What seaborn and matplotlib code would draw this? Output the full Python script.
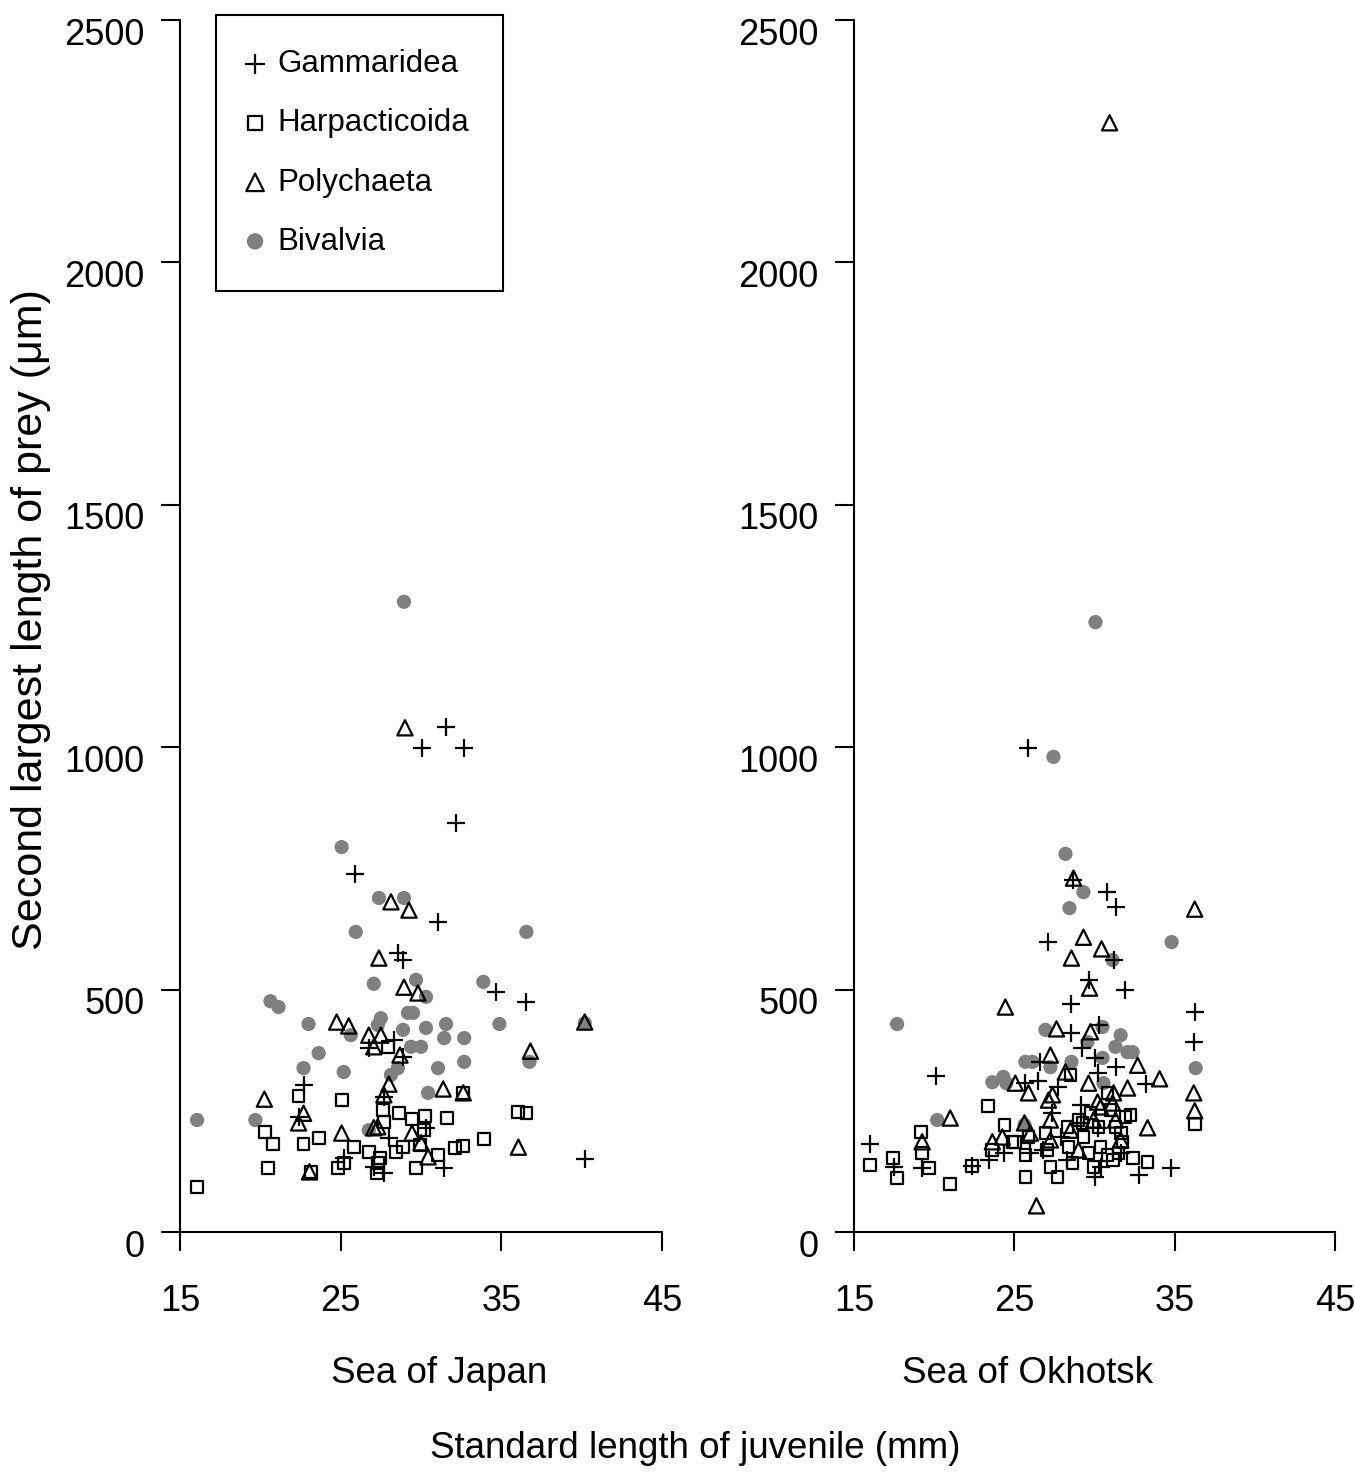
import numpy as np
import pandas as pd
import matplotlib
matplotlib.use("Agg")
import matplotlib.pyplot as plt
import matplotlib.transforms as mtransforms
import seaborn as sns

# ---- data: standard length (mm) vs prey length (um) ----
# Sea of Japan
jp_gam_x = [31.56, 30.06, 32.69, 32.19, 25.88, 31.06, 28.56, 28.88, 34.69, 36.56, 28.31, 26.75,
            28.88, 22.69, 22.38, 27.69, 28.0, 25.19, 27.06, 27.69, 30.31, 31.44, 40.19]
jp_gam_y = [1042, 998, 998, 844, 738, 639, 576, 561, 495, 474, 396, 380,
            361, 303, 237, 278, 194, 153, 134, 122, 215, 132, 151]

jp_har_x = [22.38, 25.06, 27.63, 28.63, 29.44, 30.25, 31.63, 20.31, 20.81, 22.69, 23.63, 25.81,
            26.75, 27.44, 28.44, 28.88, 20.5, 23.13, 24.81, 25.19, 27.25, 29.69, 16.06, 27.69,
            27.94, 30.19, 32.63, 36.06, 36.56, 33.94, 32.63, 32.13, 31.06, 29.94, 27.31]
jp_har_y = [281, 272, 252, 245, 233, 239, 235, 206, 182, 182, 194, 175,
            165, 153, 165, 175, 132, 124, 132, 142, 122, 132, 93, 227,
            382, 210, 287, 248, 245, 192, 177, 173, 159, 179, 142]

jp_pol_x = [29.0, 28.13, 29.25, 27.38, 28.94, 29.81, 24.75, 25.5, 26.75, 27.5, 27.06, 28.69,
            28.0, 27.69, 20.25, 22.69, 22.38, 25.06, 27.31, 27.06, 29.44, 30.0, 23.06, 31.38,
            32.63, 36.81, 40.19, 36.06, 30.44]
jp_pol_y = [1040, 681, 664, 565, 505, 493, 433, 425, 406, 406, 382, 365,
            305, 283, 274, 245, 225, 204, 217, 215, 204, 184, 124, 295,
            287, 373, 433, 175, 155]

jp_biv_x = [16.06, 19.69, 20.63, 21.13, 22.69, 23.0, 23.63, 25.06, 25.19, 25.63, 25.94, 26.75,
            27.06, 27.38, 27.5, 27.31, 28.94, 28.94, 29.19, 28.88, 29.38, 30.0, 28.13, 28.56,
            29.69, 30.31, 30.31, 31.56, 31.44, 32.69, 34.88, 32.69, 31.06, 33.88, 36.56, 36.75,
            30.44, 40.19, 29.5]
jp_biv_y = [231, 231, 476, 464, 338, 429, 369, 794, 330, 406, 619, 210,
            512, 689, 441, 427, 1300, 689, 452, 417, 382, 382, 324, 338,
            520, 485, 421, 429, 400, 400, 429, 351, 338, 516, 619, 351,
            287, 431, 452]

# Sea of Okhotsk
ok_gam_x = [25.88, 27.13, 28.69, 30.81, 31.31, 29.63, 31.88, 28.56, 30.31, 31.19, 28.56, 29.19,
            26.63, 30.06, 31.31, 30.19, 25.69, 26.5, 27.75, 29.13, 27.38, 20.13, 16.0, 17.5,
            19.25, 22.38, 23.44, 24.38, 36.25, 36.19, 33.19, 32.75, 34.75, 26.0, 26.81, 28.31,
            30.06, 30.38, 31.63, 29.13, 30.19, 27.88]
ok_gam_y = [998, 598, 726, 701, 670, 520, 499, 470, 427, 561, 410, 380,
            351, 359, 340, 328, 307, 311, 299, 262, 245, 322, 182, 134,
            132, 136, 149, 163, 454, 392, 305, 118, 132, 163, 169, 149,
            113, 134, 163, 225, 215, 196]

ok_har_x = [16.0, 17.44, 17.69, 19.19, 19.25, 19.69, 21.0, 22.38, 23.38, 23.63, 24.38, 24.88,
            32.25, 36.25, 33.31, 32.38, 28.5, 25.06, 25.88, 25.69, 25.69, 26.94, 27.06, 27.25,
            27.69, 28.31, 28.38, 28.63, 29.0, 29.31, 29.63, 29.94, 30.25, 30.38, 30.81, 31.13,
            31.31, 31.63, 31.94, 31.75, 31.5, 31.0, 29.75, 29.25, 30.81]
ok_har_y = [138, 153, 111, 206, 163, 132, 99, 136, 260, 169, 221, 186,
            241, 223, 144, 153, 324, 186, 196, 159, 113, 204, 169, 134,
            113, 217, 175, 142, 231, 196, 163, 134, 217, 175, 159, 149,
            217, 204, 237, 186, 163, 252, 245, 225, 287]

ok_pol_x = [30.94, 28.69, 29.31, 30.44, 28.56, 29.69, 24.44, 27.63, 29.75, 27.25, 32.69, 28.19,
            25.06, 25.88, 29.63, 27.13, 27.38, 31.19, 32.06, 30.19, 27.25, 25.63, 26.38, 34.06,
            36.19, 36.25, 33.31, 36.25, 21.0, 19.25, 23.63, 24.25, 26.0, 28.5, 29.94, 30.38,
            31.13, 31.31, 29.0, 27.25, 31.63]
ok_pol_y = [2288, 730, 608, 584, 565, 503, 464, 419, 413, 365, 344, 330,
            307, 287, 307, 272, 283, 287, 297, 268, 231, 225, 54, 316,
            287, 250, 215, 666, 235, 186, 186, 196, 204, 210, 231, 258,
            266, 231, 169, 190, 190]

ok_biv_x = [30.06, 27.44, 28.19, 29.31, 28.44, 34.81, 17.69, 36.31, 32.38, 23.63, 24.31, 24.5,
            20.19, 31.13, 30.5, 26.94, 29.56, 31.63, 31.31, 32.06, 27.25, 25.69, 26.13, 30.5,
            28.56, 30.56, 25.63]
ok_biv_y = [1258, 980, 780, 701, 668, 598, 429, 338, 371, 309, 320, 307,
            231, 561, 423, 417, 392, 406, 382, 371, 340, 351, 351, 359,
            351, 307, 221]

taxa = ["Gammaridea", "Harpacticoida", "Polychaeta", "Bivalvia"]
seas = ["Sea of Japan", "Sea of Okhotsk"]
x_ticks = [15, 25, 35, 45]
y_ticks = [0, 500, 1000, 1500, 2000, 2500]

series = {
    ("Sea of Japan", "Gammaridea"): (jp_gam_x, jp_gam_y),
    ("Sea of Japan", "Harpacticoida"): (jp_har_x, jp_har_y),
    ("Sea of Japan", "Polychaeta"): (jp_pol_x, jp_pol_y),
    ("Sea of Japan", "Bivalvia"): (jp_biv_x, jp_biv_y),
    ("Sea of Okhotsk", "Gammaridea"): (ok_gam_x, ok_gam_y),
    ("Sea of Okhotsk", "Harpacticoida"): (ok_har_x, ok_har_y),
    ("Sea of Okhotsk", "Polychaeta"): (ok_pol_x, ok_pol_y),
    ("Sea of Okhotsk", "Bivalvia"): (ok_biv_x, ok_biv_y),
}
rows = []
for (sea, taxon), (xs, ys) in series.items():
    for x, y in zip(xs, ys):
        rows.append({"sea": sea, "taxon": taxon, "sl": x, "prey": y})
df = pd.DataFrame(rows)

sns.set_style("ticks")
plt.rcParams["font.family"] = ["Liberation Sans", "DejaVu Sans"]
plt.rcParams["text.color"] = "black"
plt.rcParams["axes.labelcolor"] = "black"
plt.rcParams["xtick.color"] = "black"
plt.rcParams["ytick.color"] = "black"

style = {
    "Gammaridea": dict(marker="+", s=170, color="black", linewidth=1.6, zorder=3),
    "Harpacticoida": dict(marker="s", s=72, facecolor="none", edgecolor="black", linewidth=1.6, zorder=3),
    "Polychaeta": dict(marker="^", s=120, facecolor="none", edgecolor="black", linewidth=1.6, zorder=3),
    "Bivalvia": dict(marker="o", s=105, color="#808080", edgecolor="none", linewidth=0, zorder=2),
}

W, H = 1355, 1478
fig = plt.figure(figsize=(W / 100, H / 100), dpi=100)
ax1 = fig.add_axes([180 / W, 246 / H, 482 / W, 1212 / H])
ax2 = fig.add_axes([854 / W, 246 / H, 481 / W, 1212 / H])

# where the panel names sit (axes fraction), as in the original
name_x = {"Sea of Japan": 0.537, "Sea of Okhotsk": 0.360}

for ax, sea in zip([ax1, ax2], seas):
    sub = df[df["sea"] == sea]
    for taxon in ["Bivalvia", "Gammaridea", "Harpacticoida", "Polychaeta"]:
        d = sub[sub["taxon"] == taxon]
        sns.scatterplot(data=d, x="sl", y="prey", ax=ax, label=taxon, legend=False, **style[taxon])
    ax.set_xlim(15, 45)
    ax.set_ylim(0, 2500)
    ax.set_xticks(x_ticks)
    ax.set_yticks(y_ticks)
    ax.tick_params(axis="both", direction="out", length=13.5, width=1.5, labelsize=26, color="black")
    ax.tick_params(axis="x", pad=24)
    ax.tick_params(axis="y", pad=12)
    for sp in ["left", "bottom"]:
        ax.spines[sp].set_linewidth(1.5)
        ax.spines[sp].set_color("black")
    sns.despine(ax=ax)
    ax.set_xlabel(sea, fontsize=26.5)
    ax.xaxis.set_label_coords(name_x[sea], -0.102)
    ax.set_ylabel("")
    # y labels sit a little below their ticks in the original
    off = mtransforms.ScaledTranslation(0, -8 / 72, fig.dpi_scale_trans)
    for lab in ax.get_yticklabels():
        lab.set_transform(lab.get_transform() + off)

ax1.set_ylabel("Second largest length of prey (\u03bcm)", fontsize=31)
ax1.yaxis.set_label_coords(-0.268, 0.505)
fig.text(695 / W, 1 - 1449 / H, "Standard length of juvenile (mm)", fontsize=26.5,
         ha="center", va="center")

# legend in the original order
handles, labels = ax1.get_legend_handles_labels()
order = [labels.index(t) for t in taxa]
leg = ax1.legend([handles[i] for i in order], [labels[i] for i in order],
                 loc="upper left", bbox_to_anchor=((216 - 180) / 482, (1232 - 15) / 1212),
                 borderaxespad=0, fontsize=22.5, frameon=True, fancybox=False,
                 edgecolor="black", framealpha=1, borderpad=1.1, handlelength=0.3,
                 handletextpad=0.55, labelspacing=0.93, scatterpoints=1, markerscale=1.15)
leg.get_frame().set_linewidth(1.5)

fig.savefig("out.png", dpi=100)
